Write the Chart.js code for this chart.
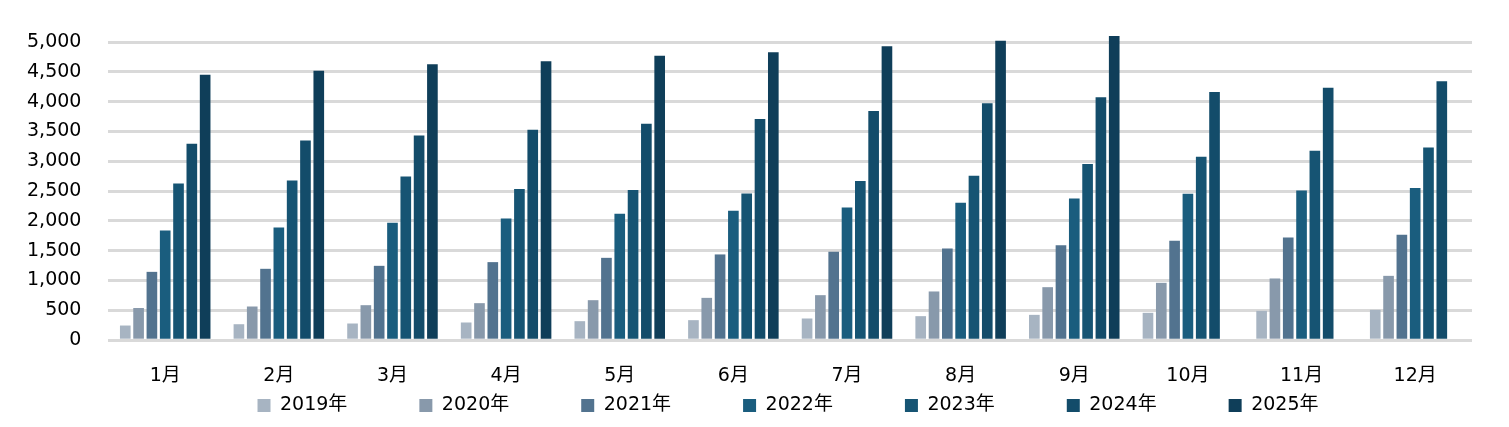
<!DOCTYPE html>
<html>
<head>
<meta charset="utf-8">
<script src="https://cdn.jsdelivr.net/npm/chart.js@4/dist/chart.umd.min.js"></script>
<style>
  html, body { margin: 0; padding: 0; background: #fff; }
  #wrap { width: 1509px; height: 427px; }
</style>
</head>
<body>
<div id="wrap"><canvas id="c" width="1509" height="427"></canvas></div>
<script>
const months = ['1月','2月','3月','4月','5月','6月','7月','8月','9月','10月','11月','12月'];
const seriesNames = ['2019年','2020年','2021年','2022年','2023年','2024年','2025年'];
const s2019 = [246, 268, 280, 297, 319, 336, 364, 403, 425, 459, 492, 509];
const s2020 = [540, 565, 587, 621, 671, 710, 755, 817, 889, 962, 1035, 1079];
const s2021 = [1146, 1197, 1247, 1309, 1381, 1438, 1482, 1538, 1594, 1667, 1723, 1767];
const s2022 = [1840, 1891, 1969, 2041, 2120, 2170, 2226, 2304, 2377, 2455, 2511, 2550];
const s2023 = [2629, 2679, 2746, 2534, 2517, 2461, 2668, 2757, 2953, 3076, 3177, 3233];
const s2024 = [3294, 3350, 3434, 3529, 3630, 3708, 3842, 3971, 4072, 4161, 4234, 4340];
const s2025 = [4451, 4519, 4625, 4676, 4771, 4827, 4928, 5022, 5101, null, null, null];
const yTicks = [0, 500, 1000, 1500, 2000, 2500, 3000, 3500, 4000, 4500, 5000];

const colors = ['#a7b4c2', '#8899ab', '#52738f', '#1a5d7e', '#165473', '#134c6a', '#0f3e59'];
const allSeries = [s2019, s2020, s2021, s2022, s2023, s2024, s2025];

const FONT = '"DejaVu Sans", "Noto Sans CJK JP", sans-serif';
const LEGEND_PAD = 72;
const LEGEND_H = 16;
const LEGEND_ITEM_TOP = 396;
const LEGEND_DX = 52;

const datasets = allSeries.map((d, i) => ({
  label: seriesNames[i],
  data: d,
  backgroundColor: colors[i],
  borderWidth: 0,
  categoryPercentage: 0.82,
  barPercentage: 0.8,
  clip: false
}));

const chart = new Chart(document.getElementById('c'), {
  type: 'bar',
  data: { labels: months, datasets },
  options: {
    responsive: false,
    devicePixelRatio: 1,
    animation: false,
    layout: { padding: { left: 0, right: 37, top: 42, bottom: 0 } },
    plugins: {
      tooltip: { enabled: false },
      legend: {
        position: 'bottom',
        labels: {
          boxWidth: 13,
          boxHeight: 13,
          padding: LEGEND_PAD,
          color: '#000',
          font: { family: FONT, size: 19 }
        }
      }
    },
    scales: {
      x: {
        grid: { display: false, drawTicks: false },
        border: { display: false },
        ticks: { color: '#000', font: { family: FONT, size: 19 }, padding: 24, maxRotation: 0 }
      },
      y: {
        min: 0,
        max: 5000,
        afterBuildTicks: (scale) => { scale.ticks = yTicks.map(v => ({ value: v })); },
        grid: { color: '#d9d9d9', lineWidth: 3, drawTicks: false },
        border: { display: false },
        ticks: {
          color: '#000',
          font: { family: FONT, size: 19 },
          padding: 27,
          callback: (v) => v.toLocaleString('en-US')
        }
      }
    }
  }
});

// Compact legend box height while keeping wide spacing between items
const lg = chart.legend;
const origFit = lg.fit;
lg.fit = function () { origFit.call(this); if (this.isHorizontal()) this.height = LEGEND_H; };
lg.draw = function () {
  if (!this.options.display) return;
  const c = this.ctx;
  c.save();
  c.translate(LEGEND_DX, LEGEND_ITEM_TOP - (this.top + this.options.labels.padding));
  this._draw();
  c.restore();
};
chart.update();
</script>
</body>
</html>
